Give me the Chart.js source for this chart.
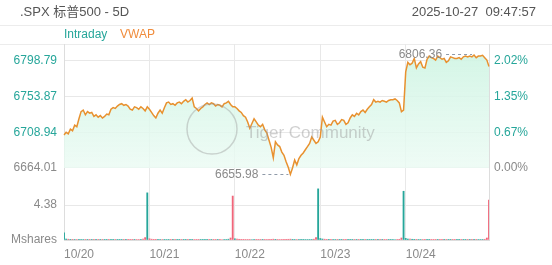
<!DOCTYPE html>
<html>
<head>
<meta charset="utf-8">
<script src="https://cdn.jsdelivr.net/npm/chart.js@4/dist/chart.umd.min.js"></script>
<style>
html, body { margin: 0; padding: 0; background: #fff; }
</style>
</head>
<body>
<canvas id="spxChart" width="552" height="265"></canvas>
<script>
// 5 trading days, 40 samples each
var days = ['10/20', '10/21', '10/22', '10/23', '10/24'];
var prevClose = 6664.01;
var priceTicks = [6664.01, 6708.94, 6753.87, 6798.79];
var volTicks = [0, 4.38];

var price1020 = [6705.6, 6709, 6707, 6713, 6711, 6718, 6716, 6726, 6735, 6737,
  6731, 6735, 6733, 6734, 6729, 6731, 6728, 6730, 6727, 6729,
  6732, 6731, 6738, 6740, 6739, 6742, 6744, 6745, 6743, 6744,
  6742, 6738, 6737, 6741, 6740, 6738, 6741, 6739, 6736, 6741];
var price1021 = [6738, 6734, 6730, 6727, 6733, 6737, 6733, 6740, 6746, 6747,
  6744, 6745, 6743, 6746, 6747, 6745, 6748, 6750, 6747, 6749,
  6752, 6741, 6739, 6736, 6739, 6741, 6744, 6746, 6744, 6746,
  6745, 6742, 6744, 6743, 6741, 6745, 6746, 6748, 6744, 6741];
var price1022 = [6741, 6739, 6736, 6734, 6730, 6728, 6722, 6714, 6720, 6726,
  6722, 6718, 6716, 6719, 6712, 6708, 6699, 6690, 6677, 6697,
  6693, 6691, 6684, 6680, 6672, 6665, 6655.98, 6664, 6674, 6668,
  6676, 6680, 6683, 6687, 6691, 6695, 6703, 6699, 6695, 6697];
var price1023 = [6703, 6728, 6722, 6716, 6719, 6718, 6723, 6724, 6719, 6721,
  6725, 6724, 6719, 6721, 6727, 6731, 6729, 6733, 6731, 6735,
  6737, 6734, 6738, 6741, 6744, 6750, 6747, 6748, 6747, 6749,
  6748, 6747, 6749, 6750, 6750, 6751, 6749, 6746, 6735, 6737];
var price1024 = [6785, 6797, 6794, 6796, 6802, 6790, 6795, 6798, 6791, 6790,
  6801, 6805, 6803, 6802, 6800, 6805, 6803, 6801, 6802, 6797,
  6799, 6804, 6803, 6802, 6802, 6803, 6801, 6804, 6805, 6804,
  6805, 6804, 6806.36, 6803, 6805, 6805, 6806, 6803, 6800, 6792];

// volume, millions of shares
var vol1020 = [0.9, 0.12, 0.1, 0.08, 0.08, 0.07, 0.06, 0.07, 0.06, 0.06,
  0.05, 0.05, 0.05, 0.05, 0.05, 0.05, 0.05, 0.05, 0.05, 0.05,
  0.05, 0.05, 0.05, 0.05, 0.05, 0.05, 0.05, 0.05, 0.05, 0.05,
  0.05, 0.05, 0.05, 0.05, 0.06, 0.06, 0.07, 0.1, 0.3, 5.9];
var vol1021 = [0.15, 0.1, 0.08, 0.08, 0.07, 0.06, 0.06, 0.05, 0.06, 0.05,
  0.05, 0.05, 0.05, 0.05, 0.05, 0.05, 0.05, 0.05, 0.05, 0.05,
  0.05, 0.06, 0.05, 0.05, 0.05, 0.05, 0.05, 0.05, 0.05, 0.05,
  0.05, 0.05, 0.05, 0.05, 0.06, 0.06, 0.07, 0.1, 0.25, 5.5];
var vol1022 = [0.15, 0.1, 0.09, 0.08, 0.08, 0.07, 0.07, 0.07, 0.06, 0.06,
  0.05, 0.05, 0.05, 0.05, 0.05, 0.06, 0.07, 0.08, 0.1, 0.08,
  0.07, 0.06, 0.07, 0.08, 0.08, 0.09, 0.1, 0.08, 0.07, 0.06,
  0.06, 0.05, 0.05, 0.06, 0.06, 0.07, 0.07, 0.1, 0.3, 6.4];
var vol1023 = [0.18, 0.12, 0.1, 0.08, 0.08, 0.07, 0.06, 0.06, 0.05, 0.05,
  0.05, 0.05, 0.05, 0.05, 0.05, 0.05, 0.05, 0.05, 0.05, 0.05,
  0.05, 0.05, 0.05, 0.05, 0.05, 0.05, 0.05, 0.05, 0.05, 0.05,
  0.05, 0.05, 0.05, 0.05, 0.06, 0.06, 0.07, 0.09, 0.25, 6.1];
var vol1024 = [0.2, 0.12, 0.1, 0.09, 0.08, 0.08, 0.07, 0.06, 0.06, 0.05,
  0.05, 0.05, 0.05, 0.05, 0.05, 0.05, 0.05, 0.05, 0.05, 0.05,
  0.05, 0.05, 0.05, 0.05, 0.05, 0.05, 0.05, 0.05, 0.05, 0.05,
  0.05, 0.05, 0.05, 0.05, 0.06, 0.06, 0.07, 0.09, 0.25, 5.0];

var perDay = 40;
var prices = price1020.concat(price1021, price1022, price1023, price1024);
var volumes = vol1020.concat(vol1021, vol1022, vol1023, vol1024);
var labels = [];
for (var d = 0; d < days.length; d++) {
  for (var k = 0; k < perDay; k++) labels.push(days[d]);
}

var TEAL = '#26a69a';
var RED = '#f0667a';
var GRAY = '#8a8a8a';
var GRID = '#e8e8e8';
var FONT = '"Liberation Sans", Arial, "Noto Sans CJK SC", sans-serif';

var priceMin = 6651.4, priceMax = 6820.2;
var pctMin = (priceMin / prevClose - 1) * 100;
var pctMax = (priceMax / prevClose - 1) * 100;

var volColors = prices.map(function(p, i) {
  var prev = i === 0 ? prevClose : prices[i - 1];
  return p >= prev ? TEAL : RED;
});

function fixWidth(w) {
  return function(scale) { scale.width = w; };
}

var hiIdx = prices.indexOf(Math.max.apply(null, prices));
var loIdx = prices.indexOf(Math.min.apply(null, prices));

var extrasPlugin = {
  id: 'extras',
  beforeDraw: function(chart) {
    var ctx = chart.ctx;
    ctx.save();
    ctx.strokeStyle = '#ececec';
    ctx.lineWidth = 1;
    ctx.beginPath();
    ctx.moveTo(0, 25.5); ctx.lineTo(552, 25.5);
    ctx.moveTo(0, 44.5); ctx.lineTo(552, 44.5);
    ctx.stroke();
    ctx.font = '13px ' + FONT;
    ctx.fillStyle = '#555';
    ctx.textBaseline = 'middle';
    ctx.textAlign = 'left';
    ctx.fillText('.SPX 标普500 - 5D', 20, 12);
    ctx.textAlign = 'right';
    ctx.fillText('2025-10-27  09:47:57', 536, 12);
    ctx.font = '12px ' + FONT;
    ctx.textAlign = 'left';
    ctx.fillStyle = TEAL;
    ctx.fillText('Intraday', 64, 35);
    ctx.fillStyle = '#f08c3c';
    ctx.fillText('VWAP', 120, 35);
    ctx.restore();
  },
  afterDatasetsDraw: function(chart) {
    var ctx = chart.ctx;
    var xs = chart.scales.x, ys = chart.scales.y;
    ctx.save();
    // watermark
    ctx.strokeStyle = 'rgba(150,150,150,0.4)';
    ctx.lineWidth = 1.5;
    ctx.beginPath();
    ctx.arc(212, 129, 25, 0, Math.PI * 2);
    ctx.stroke();
    ctx.font = '17px ' + FONT;
    ctx.fillStyle = 'rgba(150,150,150,0.45)';
    ctx.textBaseline = 'middle';
    ctx.textAlign = 'left';
    ctx.fillText('Tiger Community', 246, 133);
    // high / low marks
    ctx.font = '12px ' + FONT;
    ctx.textAlign = 'right';
    [[hiIdx, -1], [loIdx, 0]].forEach(function(m) {
      var px = xs.getPixelForValue(m[0]);
      var py = Math.round(ys.getPixelForValue(prices[m[0]]) + m[1]) + 0.5;
      ctx.strokeStyle = '#8f9aa8';
      ctx.lineWidth = 1;
      ctx.setLineDash([3, 3]);
      ctx.beginPath();
      ctx.moveTo(px - 28, py);
      ctx.lineTo(px - 2, py);
      ctx.stroke();
      ctx.setLineDash([]);
      ctx.fillStyle = GRAY;
      ctx.fillText(prices[m[0]].toFixed(2), px - 32, py);
    });
    ctx.restore();
  }
};

var ctx = document.getElementById('spxChart');

var spxChart = new Chart(ctx, {
  type: 'line',
  data: {
    labels: labels,
    datasets: [
      {
        label: 'Intraday',
        data: prices,
        yAxisID: 'y',
        borderColor: '#e8912f',
        borderWidth: 1.5,
        pointRadius: 0,
        tension: 0,
        fill: { value: prevClose },
        backgroundColor: function(c) {
          var area = c.chart.chartArea;
          if (!area) return 'rgba(215,246,232,0.8)';
          var g = c.chart.ctx.createLinearGradient(0, area.top, 0, area.top + 130);
          g.addColorStop(0, 'rgba(205,244,226,0.9)');
          g.addColorStop(1, 'rgba(236,251,244,0.8)');
          return g;
        },
        order: 1
      },
      {
        type: 'bar',
        label: 'Volume',
        data: volumes,
        yAxisID: 'yv',
        backgroundColor: volColors,
        barThickness: 1.2,
        order: 2
      }
    ]
  },
  options: {
    responsive: false,
    animation: false,
    events: [],
    layout: { padding: { top: 44, left: 0, right: 0, bottom: 0 } },
    plugins: { legend: { display: false }, tooltip: { enabled: false } },
    scales: {
      x: {
        type: 'category',
        offset: false,
        grid: { color: GRID, drawTicks: false, offset: false },
        border: { color: '#dddddd' },
        afterBuildTicks: function(scale) {
          scale.ticks = [0, 40, 80, 120, 160, 199].map(function(v) { return { value: v }; });
        },
        afterFit: function(scale) { scale.height = 25; },
        ticks: {
          autoSkip: false,
          maxRotation: 0,
          align: 'start',
          padding: 7,
          color: GRAY,
          font: { family: FONT, size: 12 },
          callback: function(v) { return v % perDay === 0 ? labels[v] : ''; }
        }
      },
      // left stack: later key is placed on top, so volume comes first
      yv: {
        position: 'left',
        stack: 'left',
        stackWeight: 62,
        min: 0,
        max: 7.76,
        afterBuildTicks: function(scale) {
          scale.ticks = volTicks.map(function(v) { return { value: v }; });
        },
        afterFit: fixWidth(64),
        grid: { color: GRID, drawTicks: false },
        border: { color: '#dddddd' },
        ticks: {
          padding: 7,
          color: GRAY,
          font: { family: FONT, size: 12 },
          callback: function(v) { return v === 0 ? 'Mshares' : v.toFixed(2); }
        }
      },
      y: {
        position: 'left',
        stack: 'left',
        stackWeight: 134,
        min: priceMin,
        max: priceMax,
        afterBuildTicks: function(scale) {
          scale.ticks = priceTicks.map(function(v) { return { value: v }; });
        },
        afterFit: fixWidth(64),
        grid: { color: GRID, drawTicks: false },
        border: { color: '#dddddd' },
        ticks: {
          padding: 7,
          font: { family: FONT, size: 12 },
          color: function(c) { return c.tick && c.tick.value > prevClose + 0.001 ? TEAL : GRAY; },
          callback: function(v) { return v.toFixed(2); }
        }
      },
      yp: {
        position: 'right',
        stack: 'right',
        stackWeight: 134,
        min: pctMin,
        max: pctMax,
        afterBuildTicks: function(scale) {
          scale.ticks = priceTicks.map(function(p) { return { value: (p / prevClose - 1) * 100 }; });
        },
        afterFit: fixWidth(63),
        grid: { display: false, drawTicks: false },
        border: { color: '#dddddd' },
        ticks: {
          padding: 5,
          font: { family: FONT, size: 12 },
          color: function(c) { return c.tick && c.tick.value > 0.0001 ? TEAL : GRAY; },
          callback: function(v) { return (Math.abs(v) < 0.0001 ? 0 : v).toFixed(2) + '%'; }
        }
      },
      yv2: {
        position: 'right',
        stack: 'right',
        stackWeight: 62,
        min: 0,
        max: 1,
        afterFit: fixWidth(63),
        grid: { display: false, drawTicks: false },
        border: { color: '#dddddd' },
        ticks: { display: false }
      }
    }
  },
  plugins: [extrasPlugin]
});
</script>
</body>
</html>
